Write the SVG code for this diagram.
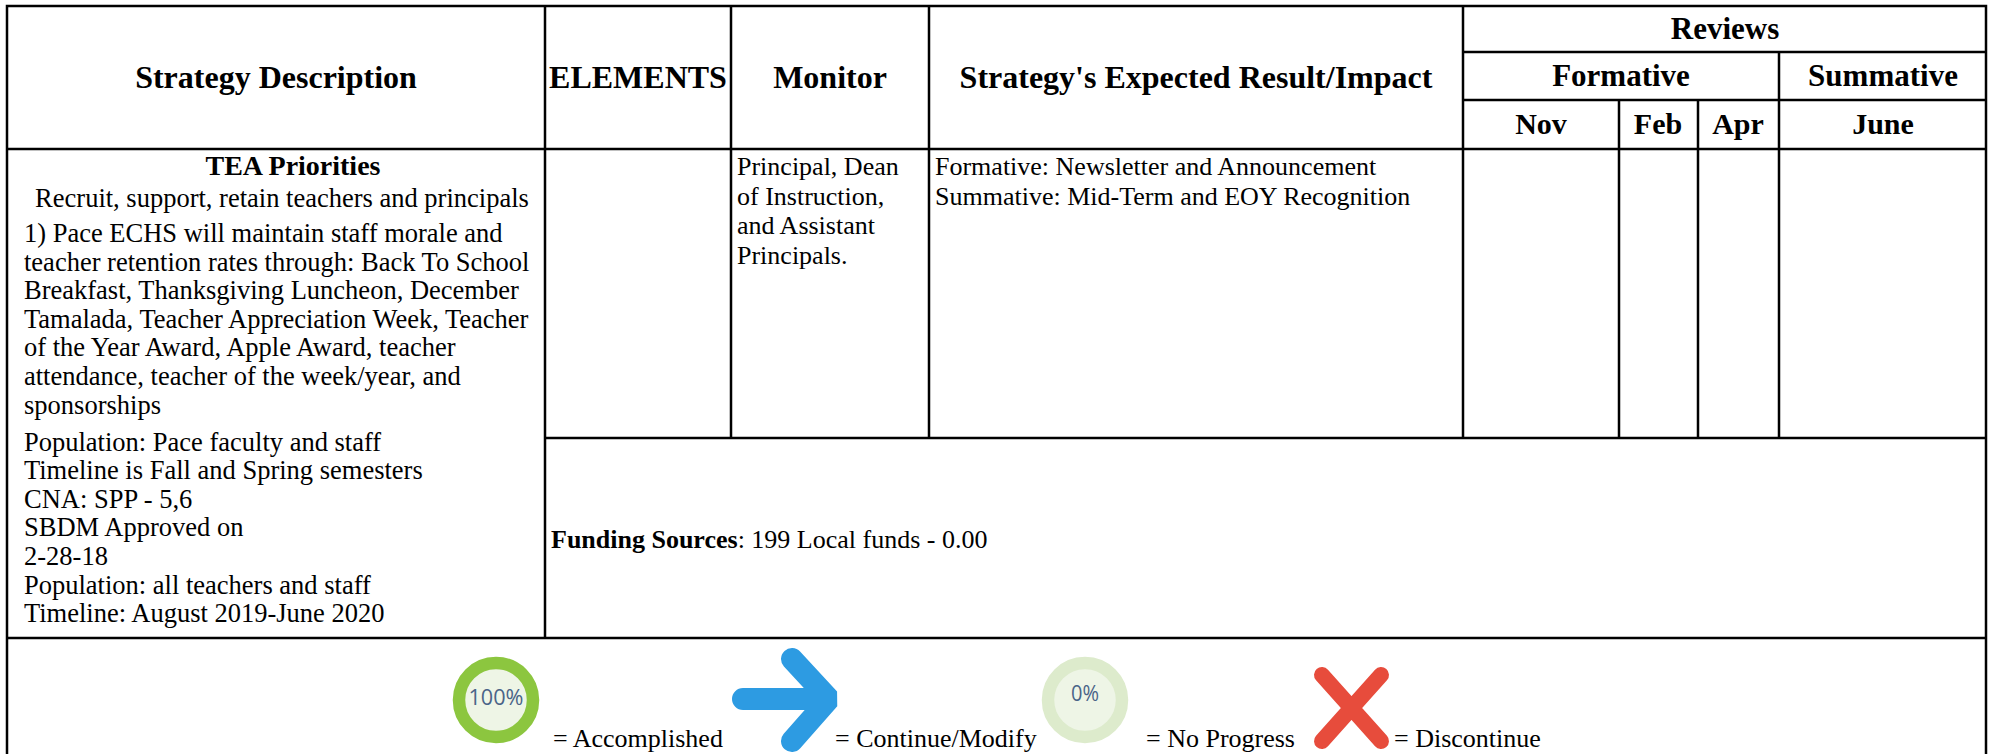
<svg xmlns="http://www.w3.org/2000/svg" width="1993" height="754" viewBox="0 0 1993 754">
<style>
.hd{font-family:"Liberation Serif","Times New Roman",serif;font-weight:bold;font-size:32px;fill:#000;text-anchor:middle}
.hs{font-size:31px}
.hn{font-size:30px}
.tx{font-family:"Liberation Serif","Times New Roman",serif;font-size:26px;fill:#000}
.ds{font-size:26.5px}
.b{font-weight:bold}
.ln{stroke:#000;stroke-width:2.5;fill:none}
.pct{font-family:"Open Sans","Liberation Sans",sans-serif;font-size:21px;fill:#4a6488;text-anchor:middle}
</style>
<rect width="1993" height="754" fill="#fff"/>
<g id="grid">
<rect x="7" y="6" width="1979" height="760" class="ln"/>
<line x1="7" y1="149" x2="1986" y2="149" class="ln"/>
<line x1="1463" y1="52" x2="1986" y2="52" class="ln"/>
<line x1="1463" y1="100" x2="1986" y2="100" class="ln"/>
<line x1="545" y1="438" x2="1986" y2="438" class="ln"/>
<line x1="7" y1="638" x2="1986" y2="638" class="ln"/>
<line x1="545" y1="6" x2="545" y2="638" class="ln"/>
<line x1="731" y1="6" x2="731" y2="438" class="ln"/>
<line x1="929" y1="6" x2="929" y2="438" class="ln"/>
<line x1="1463" y1="6" x2="1463" y2="438" class="ln"/>
<line x1="1619" y1="100" x2="1619" y2="438" class="ln"/>
<line x1="1698" y1="100" x2="1698" y2="438" class="ln"/>
<line x1="1779" y1="52" x2="1779" y2="438" class="ln"/>
</g>
<g id="hdr-strategy"><text x="276" y="88" class="hd">Strategy Description</text></g>
<g id="hdr-elements"><text x="638" y="88" class="hd">ELEMENTS</text></g>
<g id="hdr-monitor"><text x="830" y="88" class="hd">Monitor</text></g>
<g id="hdr-impact"><text x="1196" y="88" class="hd">Strategy's Expected Result/Impact</text></g>
<g id="hdr-reviews"><text x="1725" y="39" class="hd hs">Reviews</text></g>
<g id="hdr-formative"><text x="1621" y="86" class="hd hs">Formative</text></g>
<g id="hdr-summative"><text x="1883" y="86" class="hd hs">Summative</text></g>
<g id="hdr-nov"><text x="1541" y="134" class="hd hn">Nov</text></g>
<g id="hdr-feb"><text x="1658" y="134" class="hd hn">Feb</text></g>
<g id="hdr-apr"><text x="1738" y="134" class="hd hn">Apr</text></g>
<g id="hdr-june"><text x="1883" y="134" class="hd hn">June</text></g>
<g id="cell-description" class="tx ds">
<text x="293" y="175" text-anchor="middle" class="b" font-size="28">TEA Priorities</text>
<text x="282" y="207" text-anchor="middle">Recruit, support, retain teachers and principals</text>
<text x="24" y="242">1) Pace ECHS will maintain staff morale and</text>
<text x="24" y="270.6">teacher retention rates through: Back To School</text>
<text x="24" y="299.2">Breakfast, Thanksgiving Luncheon, December</text>
<text x="24" y="327.8">Tamalada, Teacher Appreciation Week, Teacher</text>
<text x="24" y="356.4">of the Year Award, Apple Award, teacher</text>
<text x="24" y="385">attendance, teacher of the week/year, and</text>
<text x="24" y="413.6">sponsorships</text>
<text x="24" y="450.5">Population: Pace faculty and staff</text>
<text x="24" y="479.1">Timeline is Fall and Spring semesters</text>
<text x="24" y="507.7">CNA: SPP - 5,6</text>
<text x="24" y="536.3">SBDM Approved on</text>
<text x="24" y="564.9">2-28-18</text>
<text x="24" y="593.5">Population: all teachers and staff</text>
<text x="24" y="622.1">Timeline: August 2019-June 2020</text>
</g>
<g id="cell-monitor" class="tx">
<text x="737" y="175">Principal, Dean</text>
<text x="737" y="204.5">of Instruction,</text>
<text x="737" y="234">and Assistant</text>
<text x="737" y="263.5">Principals.</text>
</g>
<g id="cell-impact" class="tx">
<text x="935" y="175">Formative: Newsletter and Announcement</text>
<text x="935" y="205">Summative: Mid-Term and EOY Recognition</text>
</g>
<g id="cell-funding" class="tx">
<text x="551" y="548"><tspan class="b">Funding Sources</tspan>: 199 Local funds - 0.00</text>
</g>
<g id="legend-accomplished">
<circle cx="496" cy="700" r="37" fill="#eef5e6" stroke="#8cc63f" stroke-width="12.5"/>
<text x="496" y="705" class="pct" textLength="55" lengthAdjust="spacingAndGlyphs">100%</text>
<text x="553" y="747" class="tx">= Accomplished</text>
</g>
<g id="legend-continue">
<path d="M743 699 H824 M792 659 L829 699 L792 741" fill="none" stroke="#2d9be2" stroke-width="22" stroke-linecap="round" stroke-linejoin="bevel"/>
<text x="835" y="747" class="tx">= Continue/Modify</text>
</g>
<g id="legend-noprogress">
<circle cx="1085" cy="700" r="37" fill="#eef5e6" stroke="#ddebcc" stroke-width="12.5"/>
<text x="1085" y="701" class="pct" textLength="28" lengthAdjust="spacingAndGlyphs">0%</text>
<text x="1146" y="747" class="tx">= No Progress</text>
</g>
<g id="legend-discontinue">
<path d="M1322 675 L1381 741 M1381 675 L1322 741" fill="none" stroke="#e74c3c" stroke-width="16" stroke-linecap="round"/>
<text x="1394" y="747" class="tx">= Discontinue</text>
</g>
</svg>
